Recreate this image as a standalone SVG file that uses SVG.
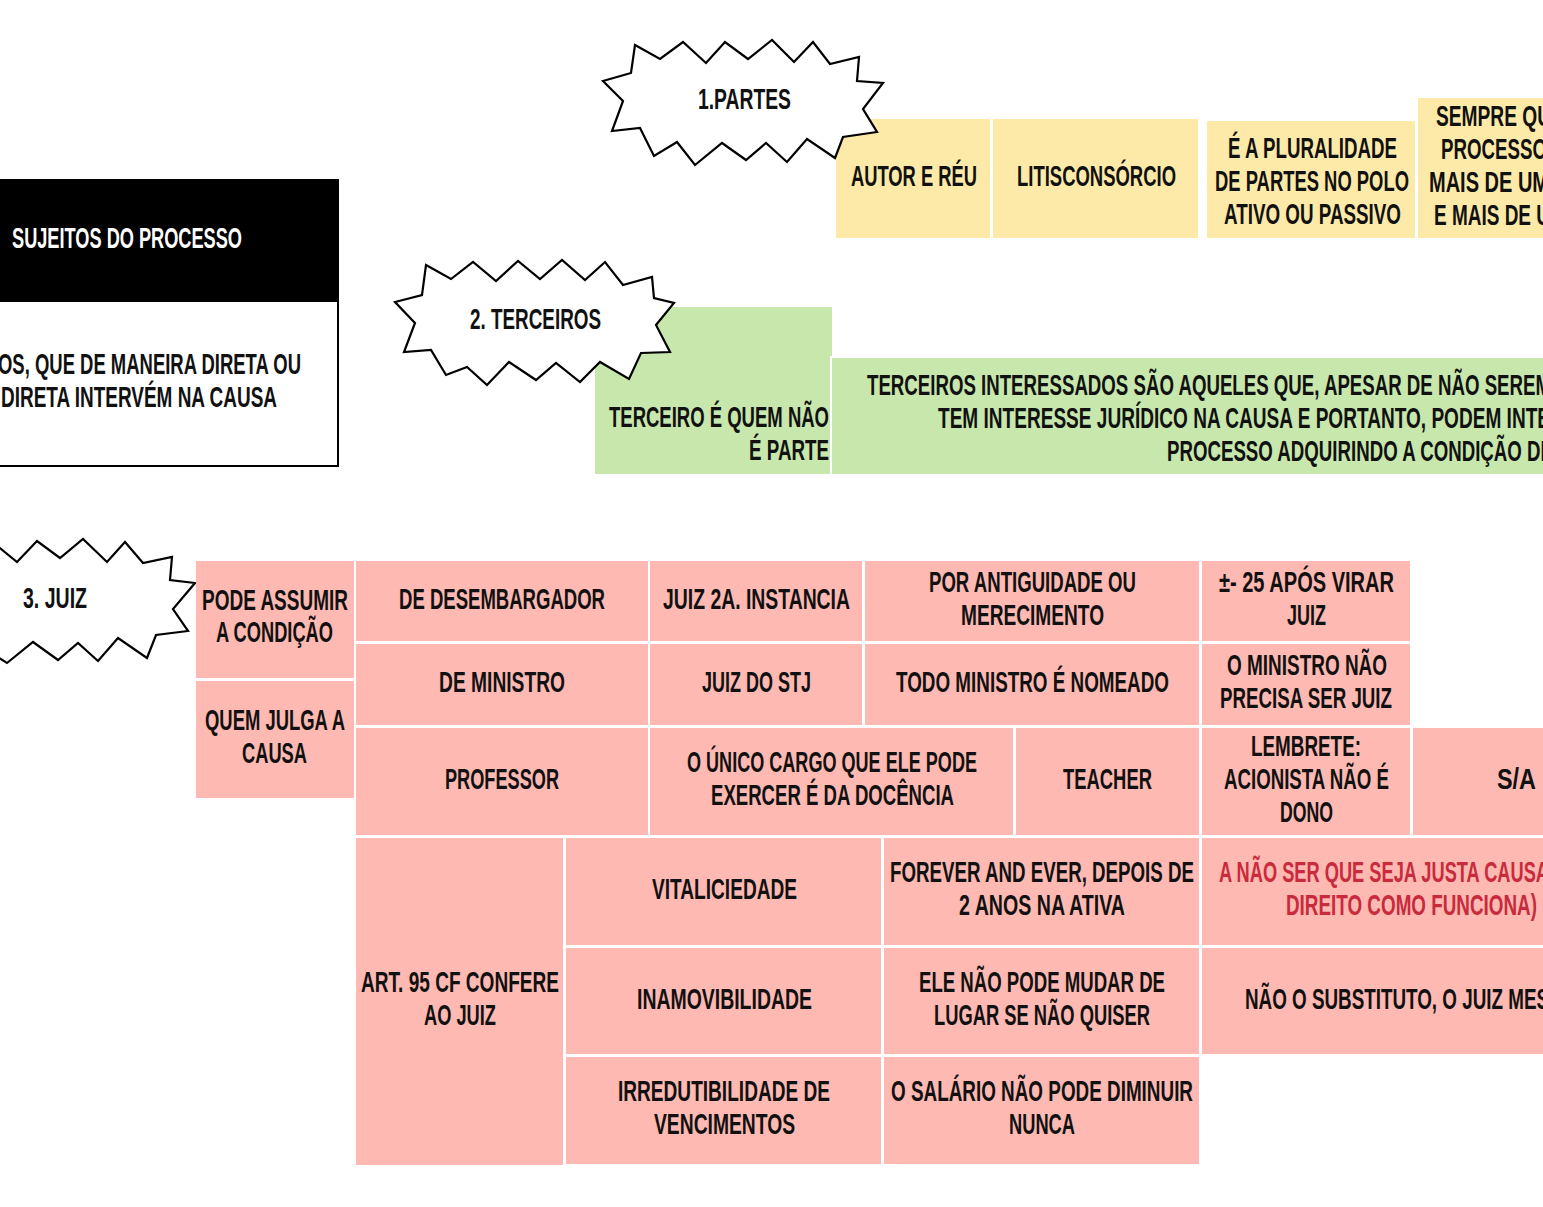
<svg xmlns="http://www.w3.org/2000/svg" width="1543" height="1207" viewBox="0 0 1543 1207">
<style>
text{font-family:"Liberation Sans Narrow","Liberation Sans",Arial,sans-serif;font-weight:bold;font-size:30px;fill:#111;}
.w{fill:#fff;}
.r{fill:#c92a3c;}
.y{fill:#feeaa8;}
.g{fill:#c7e7ad;}
.p{fill:#feb9b2;}
.burst{fill:#fff;stroke:#000;stroke-width:2.2;stroke-linejoin:miter;}
</style>
<rect width="1543" height="1207" fill="#fff"/>
<g id="connectors"/>

<g id="sujeitos">
<rect x="-2" y="180" width="340" height="286" fill="#fff" stroke="#000" stroke-width="2"/>
<rect x="-2" y="180" width="340" height="122" fill="#000"/>
<text class="w" x="12" y="248" textLength="230" lengthAdjust="spacingAndGlyphs">SUJEITOS DO PROCESSO</text>
<text x="-2" y="374" textLength="303" lengthAdjust="spacingAndGlyphs">OS, QUE DE MANEIRA DIRETA OU</text>
<text x="1" y="407" textLength="276" lengthAdjust="spacingAndGlyphs">DIRETA INTERVÉM NA CAUSA</text>
</g>

<g id="partes-autor">
<rect class="y" x="836" y="119" width="154" height="119"/>
<text x="851" y="186" textLength="126" lengthAdjust="spacingAndGlyphs">AUTOR E RÉU</text>
</g>
<g id="partes-litis">
<rect class="y" x="993" y="119" width="205" height="119"/>
<text x="1017" y="186" textLength="159" lengthAdjust="spacingAndGlyphs">LITISCONSÓRCIO</text>
</g>
<g id="partes-pluralidade">
<rect class="y" x="1207" y="121" width="208" height="117"/>
<text x="1228" y="158" textLength="169" lengthAdjust="spacingAndGlyphs">É A PLURALIDADE</text>
<text x="1215" y="191" textLength="194" lengthAdjust="spacingAndGlyphs">DE PARTES NO POLO</text>
<text x="1224" y="224" textLength="177" lengthAdjust="spacingAndGlyphs">ATIVO OU PASSIVO</text>
</g>
<g id="partes-sempre">
<rect class="y" x="1418" y="98" width="130" height="140"/>
<text x="1436" y="126" textLength="115" lengthAdjust="spacingAndGlyphs">SEMPRE QU</text>
<text x="1441" y="159" textLength="106" lengthAdjust="spacingAndGlyphs">PROCESSO</text>
<text x="1429" y="192" textLength="120" lengthAdjust="spacingAndGlyphs">MAIS DE UM</text>
<text x="1434" y="225" textLength="116" lengthAdjust="spacingAndGlyphs">E MAIS DE U</text>
</g>

<g id="partes">
<polygon class="burst" points="635,45 660,59 683,42 706,63 725,42 748,59 772,40 794,62 813,42 830,64 859,57 857,81 883,83 863,109 877,132 843,137 835,158 807,139 787,162 766,143 746,160 722,143 695,165 677,142 654,156 640,128 612,131 623,101 603,81 631,73"/>
<text x="698" y="109" textLength="93" lengthAdjust="spacingAndGlyphs">1.PARTES</text>
</g>

<g id="terceiro-quem">
<rect class="g" x="595" y="307" width="237" height="167"/>
<text x="609" y="427" textLength="220" lengthAdjust="spacingAndGlyphs">TERCEIRO É QUEM NÃO</text>
<text x="749" y="460" textLength="80" lengthAdjust="spacingAndGlyphs">É PARTE</text>
</g>
<g id="terceiros-interessados">
<rect class="g" x="831" y="357" width="720" height="118" stroke="#fff" stroke-width="2"/>
<text x="867" y="395" textLength="684" lengthAdjust="spacingAndGlyphs">TERCEIROS INTERESSADOS SÃO AQUELES QUE, APESAR DE NÃO SEREM</text>
<text x="938" y="428" textLength="612" lengthAdjust="spacingAndGlyphs">TEM INTERESSE JURÍDICO NA CAUSA E PORTANTO, PODEM INTE</text>
<text x="1167" y="461" textLength="386" lengthAdjust="spacingAndGlyphs">PROCESSO ADQUIRINDO A CONDIÇÃO DE</text>
</g>

<g id="terceiros">
<polygon class="burst" points="426,265 451,279 473,262 496,281 518,261 540,279 562,260 585,280 605,262 623,285 652,277 654,298 674,303 656,325 670,352 641,353 629,379 600,362 580,382 556,363 536,380 509,362 487,385 467,367 446,375 431,350 404,352 415,323 395,302 422,295"/>
<text x="470" y="329" textLength="131" lengthAdjust="spacingAndGlyphs">2. TERCEIROS</text>
</g>

<g id="juiz">
<polygon class="burst" points="-10,540 17,562 37,541 60,558 83,539 107,562 125,542 143,563 172,557 170,580 195,583 173,609 188,631 156,635 147,658 118,638 98,661 78,643 58,660 33,642 7,663 -10,652"/>
<text x="23" y="608" textLength="64" lengthAdjust="spacingAndGlyphs">3. JUIZ</text>
</g>

<g id="pode-assumir">
<rect class="p" x="196" y="561" width="158" height="117"/>
<text x="202" y="610" textLength="146" lengthAdjust="spacingAndGlyphs">PODE ASSUMIR</text>
<text x="216" y="642" textLength="117" lengthAdjust="spacingAndGlyphs">A CONDIÇÃO</text>
</g>
<g id="quem-julga">
<rect class="p" x="196" y="681" width="158" height="117"/>
<text x="205" y="730" textLength="140" lengthAdjust="spacingAndGlyphs">QUEM JULGA A</text>
<text x="242" y="763" textLength="65" lengthAdjust="spacingAndGlyphs">CAUSA</text>
</g>

<g id="desembargador">
<rect class="p" x="356" y="561" width="292" height="80"/>
<text x="399" y="609" textLength="206" lengthAdjust="spacingAndGlyphs">DE DESEMBARGADOR</text>
</g>
<g id="juiz-2a">
<rect class="p" x="650" y="561" width="212" height="80"/>
<text x="663" y="609" textLength="187" lengthAdjust="spacingAndGlyphs">JUIZ 2A. INSTANCIA</text>
</g>
<g id="antiguidade">
<rect class="p" x="865" y="561" width="334" height="80"/>
<text x="929" y="592" textLength="207" lengthAdjust="spacingAndGlyphs">POR ANTIGUIDADE OU</text>
<text x="961" y="625" textLength="143" lengthAdjust="spacingAndGlyphs">MERECIMENTO</text>
</g>
<g id="apos-virar">
<rect class="p" x="1202" y="561" width="208" height="80"/>
<text x="1219" y="592" textLength="175" lengthAdjust="spacingAndGlyphs">±- 25 APÓS VIRAR</text>
<text x="1287" y="625" textLength="39" lengthAdjust="spacingAndGlyphs">JUIZ</text>
</g>

<g id="ministro">
<rect class="p" x="356" y="644" width="292" height="81"/>
<text x="439" y="692" textLength="126" lengthAdjust="spacingAndGlyphs">DE MINISTRO</text>
</g>
<g id="juiz-stj">
<rect class="p" x="650" y="644" width="212" height="81"/>
<text x="702" y="692" textLength="109" lengthAdjust="spacingAndGlyphs">JUIZ DO STJ</text>
</g>
<g id="nomeado">
<rect class="p" x="865" y="644" width="334" height="81"/>
<text x="896" y="692" textLength="273" lengthAdjust="spacingAndGlyphs">TODO MINISTRO É NOMEADO</text>
</g>
<g id="nao-precisa">
<rect class="p" x="1202" y="644" width="208" height="81"/>
<text x="1227" y="675" textLength="160" lengthAdjust="spacingAndGlyphs">O MINISTRO NÃO</text>
<text x="1220" y="708" textLength="172" lengthAdjust="spacingAndGlyphs">PRECISA SER JUIZ</text>
</g>

<g id="professor">
<rect class="p" x="356" y="728" width="292" height="107"/>
<text x="445" y="789" textLength="114" lengthAdjust="spacingAndGlyphs">PROFESSOR</text>
</g>
<g id="unico-cargo">
<rect class="p" x="650" y="728" width="363" height="107"/>
<text x="687" y="772" textLength="290" lengthAdjust="spacingAndGlyphs">O ÚNICO CARGO QUE ELE PODE</text>
<text x="711" y="805" textLength="243" lengthAdjust="spacingAndGlyphs">EXERCER É DA DOCÊNCIA</text>
</g>
<g id="teacher">
<rect class="p" x="1016" y="728" width="183" height="107"/>
<text x="1063" y="789" textLength="89" lengthAdjust="spacingAndGlyphs">TEACHER</text>
</g>
<g id="lembrete">
<rect class="p" x="1202" y="728" width="208" height="107"/>
<text x="1251" y="756" textLength="110" lengthAdjust="spacingAndGlyphs">LEMBRETE:</text>
<text x="1224" y="789" textLength="165" lengthAdjust="spacingAndGlyphs">ACIONISTA NÃO É</text>
<text x="1280" y="822" textLength="53" lengthAdjust="spacingAndGlyphs">DONO</text>
</g>
<g id="sa">
<rect class="p" x="1413" y="728" width="135" height="107"/>
<text x="1497" y="789" textLength="39" lengthAdjust="spacingAndGlyphs">S/A</text>
</g>

<g id="art95">
<rect class="p" x="356" y="838" width="207" height="327"/>
<text x="361" y="992" textLength="198" lengthAdjust="spacingAndGlyphs">ART. 95 CF CONFERE</text>
<text x="424" y="1025" textLength="72" lengthAdjust="spacingAndGlyphs">AO JUIZ</text>
</g>
<g id="vitaliciedade">
<rect class="p" x="566" y="838" width="315" height="107"/>
<text x="652" y="899" textLength="145" lengthAdjust="spacingAndGlyphs">VITALICIEDADE</text>
</g>
<g id="forever">
<rect class="p" x="884" y="838" width="315" height="107"/>
<text x="890" y="882" textLength="304" lengthAdjust="spacingAndGlyphs">FOREVER AND EVER, DEPOIS DE</text>
<text x="959" y="915" textLength="166" lengthAdjust="spacingAndGlyphs">2 ANOS NA ATIVA</text>
</g>
<g id="justa-causa">
<rect class="p" x="1202" y="838" width="346" height="107"/>
<text class="r" x="1219" y="882" textLength="330" lengthAdjust="spacingAndGlyphs">A NÃO SER QUE SEJA JUSTA CAUSA</text>
<text class="r" x="1286" y="915" textLength="251" lengthAdjust="spacingAndGlyphs">DIREITO COMO FUNCIONA)</text>
</g>
<g id="inamovibilidade">
<rect class="p" x="566" y="948" width="315" height="106"/>
<text x="637" y="1009" textLength="175" lengthAdjust="spacingAndGlyphs">INAMOVIBILIDADE</text>
</g>
<g id="mudar-lugar">
<rect class="p" x="884" y="948" width="315" height="106"/>
<text x="919" y="992" textLength="246" lengthAdjust="spacingAndGlyphs">ELE NÃO PODE MUDAR DE</text>
<text x="934" y="1025" textLength="216" lengthAdjust="spacingAndGlyphs">LUGAR SE NÃO QUISER</text>
</g>
<g id="substituto">
<rect class="p" x="1202" y="948" width="346" height="106"/>
<text x="1245" y="1009" textLength="304" lengthAdjust="spacingAndGlyphs">NÃO O SUBSTITUTO, O JUIZ MES</text>
</g>
<g id="irredutibilidade">
<rect class="p" x="566" y="1057" width="315" height="107"/>
<text x="618" y="1101" textLength="212" lengthAdjust="spacingAndGlyphs">IRREDUTIBILIDADE DE</text>
<text x="654" y="1134" textLength="141" lengthAdjust="spacingAndGlyphs">VENCIMENTOS</text>
</g>
<g id="salario">
<rect class="p" x="884" y="1057" width="315" height="107"/>
<text x="891" y="1101" textLength="302" lengthAdjust="spacingAndGlyphs">O SALÁRIO NÃO PODE DIMINUIR</text>
<text x="1009" y="1134" textLength="66" lengthAdjust="spacingAndGlyphs">NUNCA</text>
</g>
</svg>
